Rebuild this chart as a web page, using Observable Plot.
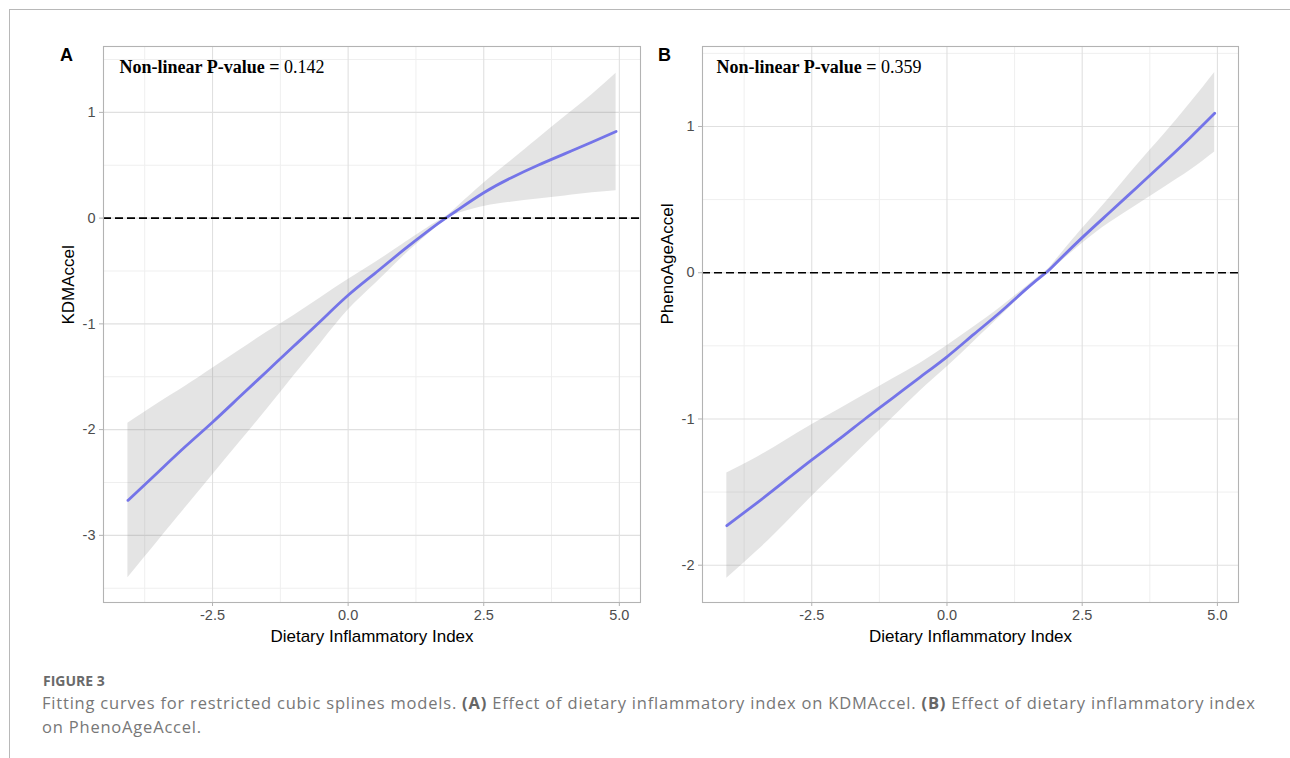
<!DOCTYPE html>
<html><head><meta charset="utf-8">
<script src="https://cdn.jsdelivr.net/npm/d3@7"></script>
<script src="https://cdn.jsdelivr.net/npm/@observablehq/plot@0.6"></script>
<style>
body{margin:0;background:#fff;}
#page{position:relative;width:1290px;height:758px;overflow:hidden;background:#fff;}
#border{position:absolute;left:9px;top:9px;width:1300px;height:800px;border-top:1px solid #b8b8b8;border-left:1px solid #b8b8b8;}
.panel{position:absolute;top:0;}
.panel svg{background:transparent !important;}
.panel svg g[aria-label$="tick label"]{font-size:14.5px !important;}
.panel svg g[aria-label$="tick label"] text{font-size:14.5px !important;}
.tag{position:absolute;font:bold 18px "Liberation Sans",Arial,sans-serif;color:#000;line-height:18px;}
#fig{position:absolute;left:43px;top:673.5px;font:bold 14px/14px "Open Sans",sans-serif;color:#6a6a6a;}
#cap{position:absolute;left:42px;top:690.5px;font:16.5px/24.5px "Open Sans",sans-serif;letter-spacing:0.8px;color:#777;white-space:nowrap;}
#cap b{color:#666;}
</style></head><body>
<div id="page">
<div id="border"></div>
<div id="panelA" class="panel" style="left:0px"></div>
<div id="panelB" class="panel" style="left:598px"></div>
<div class="tag" style="left:60px;top:46px">A</div>
<div class="tag" style="left:658px;top:46px">B</div>
<div id="fig">FIGURE 3</div>
<div id="cap">Fitting curves for restricted cubic splines models. <b>(A)</b> Effect of dietary inflammatory index on KDMAccel. <b>(B)</b> Effect of dietary inflammatory index<br>on PhenoAgeAccel.</div>
</div>
<script>
// ---- Data ----
const xTicks = [-2.5, 0, 2.5, 5];
const xMinor = [-3.75, -1.25, 1.25, 3.75];
const xTitle = "Dietary Inflammatory Index";

// Panel A: KDMAccel
const aX     = [-4.06, -3.5, -3, -2.5, -2, -1.5, -1, -0.5, 0, 0.5, 1, 1.5, 1.8, 2, 2.5, 3, 3.5, 4, 4.5, 4.94];
const aFit   = [-2.67, -2.40, -2.16, -1.93, -1.69, -1.45, -1.21, -0.97, -0.73, -0.52, -0.31, -0.11, 0.0, 0.07, 0.24, 0.38, 0.50, 0.61, 0.72, 0.82];
const aUpper = [-1.94, -1.75, -1.59, -1.42, -1.25, -1.08, -0.92, -0.75, -0.58, -0.42, -0.25, -0.08, 0.015, 0.10, 0.33, 0.54, 0.75, 0.96, 1.17, 1.37];
const aLower = [-3.40, -3.05, -2.74, -2.43, -2.12, -1.81, -1.49, -1.18, -0.87, -0.62, -0.37, -0.14, -0.015, 0.04, 0.11, 0.15, 0.18, 0.21, 0.24, 0.26];
const aYTicks = [1, 0, -1, -2, -3];
const aYMinor = [1.5, 0.5, -0.5, -1.5, -2.5, -3.5];
const aYLabel = "KDMAccel";
const aPText = "Non-linear P-value = 0.142";

// Panel B: PhenoAgeAccel
const bX     = [-4.07, -3.5, -3, -2.5, -2, -1.5, -1, -0.5, 0, 0.5, 1, 1.5, 1.83, 2, 2.5, 3, 3.5, 4, 4.5, 4.95];
const bFit   = [-1.73, -1.57, -1.425, -1.28, -1.14, -0.995, -0.855, -0.715, -0.575, -0.42, -0.265, -0.10, 0.0, 0.06, 0.24, 0.41, 0.58, 0.75, 0.925, 1.09];
const bUpper = [-1.37, -1.26, -1.15, -1.04, -0.935, -0.83, -0.725, -0.62, -0.50, -0.37, -0.235, -0.085, 0.012, 0.08, 0.30, 0.51, 0.73, 0.94, 1.16, 1.37];
const bLower = [-2.09, -1.90, -1.72, -1.53, -1.35, -1.17, -0.99, -0.81, -0.645, -0.47, -0.295, -0.115, -0.012, 0.04, 0.20, 0.34, 0.46, 0.58, 0.70, 0.825];
const bYTicks = [1, 0, -1, -2];
const bYMinor = [1.5, 0.5, -0.5, -1.5];
const bYLabel = "PhenoAgeAccel";
const bPText = "Non-linear P-value = 0.359";

function makePanel({xs, fit, upper, lower, xDomain, yDomain, yTicks, yMinor, yLabel, pText, marginLeft, marginRight, pdx}) {
  const rows = xs.map((x, i) => ({x, fit: fit[i], lo: lower[i], hi: upper[i]}));
  const svg = Plot.plot({
    width: 650, height: 660,
    marginLeft, marginRight, marginTop: 46, marginBottom: 58,
    x: {domain: xDomain},
    y: {domain: yDomain},
    style: {fontFamily: "'Liberation Sans', Arial, sans-serif", fontSize: "14.5px", background: "transparent", overflow: "visible"},
    marks: [
      Plot.ruleX(xMinor, {stroke: "#efefef", strokeWidth: 1}),
      Plot.ruleY(yMinor, {stroke: "#efefef", strokeWidth: 1}),
      Plot.ruleX(xTicks, {stroke: "#e0e0e0", strokeWidth: 1.1}),
      Plot.ruleY(yTicks, {stroke: "#e0e0e0", strokeWidth: 1.1}),
      Plot.areaY(rows, {x: "x", y1: "lo", y2: "hi", fill: "#808080", fillOpacity: 0.21, curve: "natural"}),
      Plot.lineY(rows, {x: "x", y: "fit", stroke: "#7474e8", strokeWidth: 2.8, curve: "natural"}),
      Plot.ruleY([0], {stroke: "#000", strokeWidth: 1.6, strokeDasharray: "8,4"}),
      Plot.frame({stroke: "#b3b3b3", strokeWidth: 1.1}),
      Plot.axisX(xTicks, {tickFormat: d => d.toFixed(1), tickSize: 4, tickPadding: 3, fontSize: 14.5, stroke: "#b3b3b3", fill: "#4d4d4d", label: null}),
      Plot.axisY(yTicks, {tickFormat: d => String(d), tickSize: 4, tickPadding: 4, fontSize: 14.5, stroke: "#b3b3b3", fill: "#4d4d4d", label: null}),
      Plot.text([xTitle], {frameAnchor: "bottom", dy: 34, fontSize: 17, fill: "#000", lineAnchor: "middle"}),
      Plot.text([yLabel], {frameAnchor: "left", dx: -35, rotate: -90, fontSize: 17, fill: "#000", lineAnchor: "middle"}),
      Plot.text([pText], {frameAnchor: "top-left", dx: pdx, dy: 26, fontSize: 18, fontFamily: "'Liberation Serif', 'Times New Roman', serif", fill: "#000", textAnchor: "start", lineAnchor: "bottom"})
    ]
  });
  // bold label part, regular number (as in the reference)
  svg.querySelectorAll("text").forEach(t => {
    if (t.textContent.startsWith("Non-linear")) {
      const s = t.textContent;
      const k = s.indexOf("=") + 2;
      t.textContent = "";
      const ns = "http://www.w3.org/2000/svg";
      const t1 = document.createElementNS(ns, "tspan");
      t1.setAttribute("font-weight", "bold");
      t1.textContent = s.slice(0, k);
      const t2 = document.createElementNS(ns, "tspan");
      t2.textContent = s.slice(k);
      t.appendChild(t1); t.appendChild(t2);
    }
  });
  return svg;
}

document.getElementById("panelA").appendChild(makePanel({
  xs: aX, fit: aFit, upper: aUpper, lower: aLower,
  xDomain: [-4.51, 5.39], yDomain: [-3.635, 1.623],
  yTicks: aYTicks, yMinor: aYMinor, yLabel: aYLabel, pText: aPText,
  marginLeft: 103, marginRight: 10, pdx: 16
}));
document.getElementById("panelB").appendChild(makePanel({
  xs: bX, fit: bFit, upper: bUpper, lower: bLower,
  xDomain: [-4.52, 5.39], yDomain: [-2.255, 1.547],
  yTicks: bYTicks, yMinor: bYMinor, yLabel: bYLabel, pText: bPText,
  marginLeft: 104, marginRight: 10, pdx: 14
}));
</script>
</body></html>
